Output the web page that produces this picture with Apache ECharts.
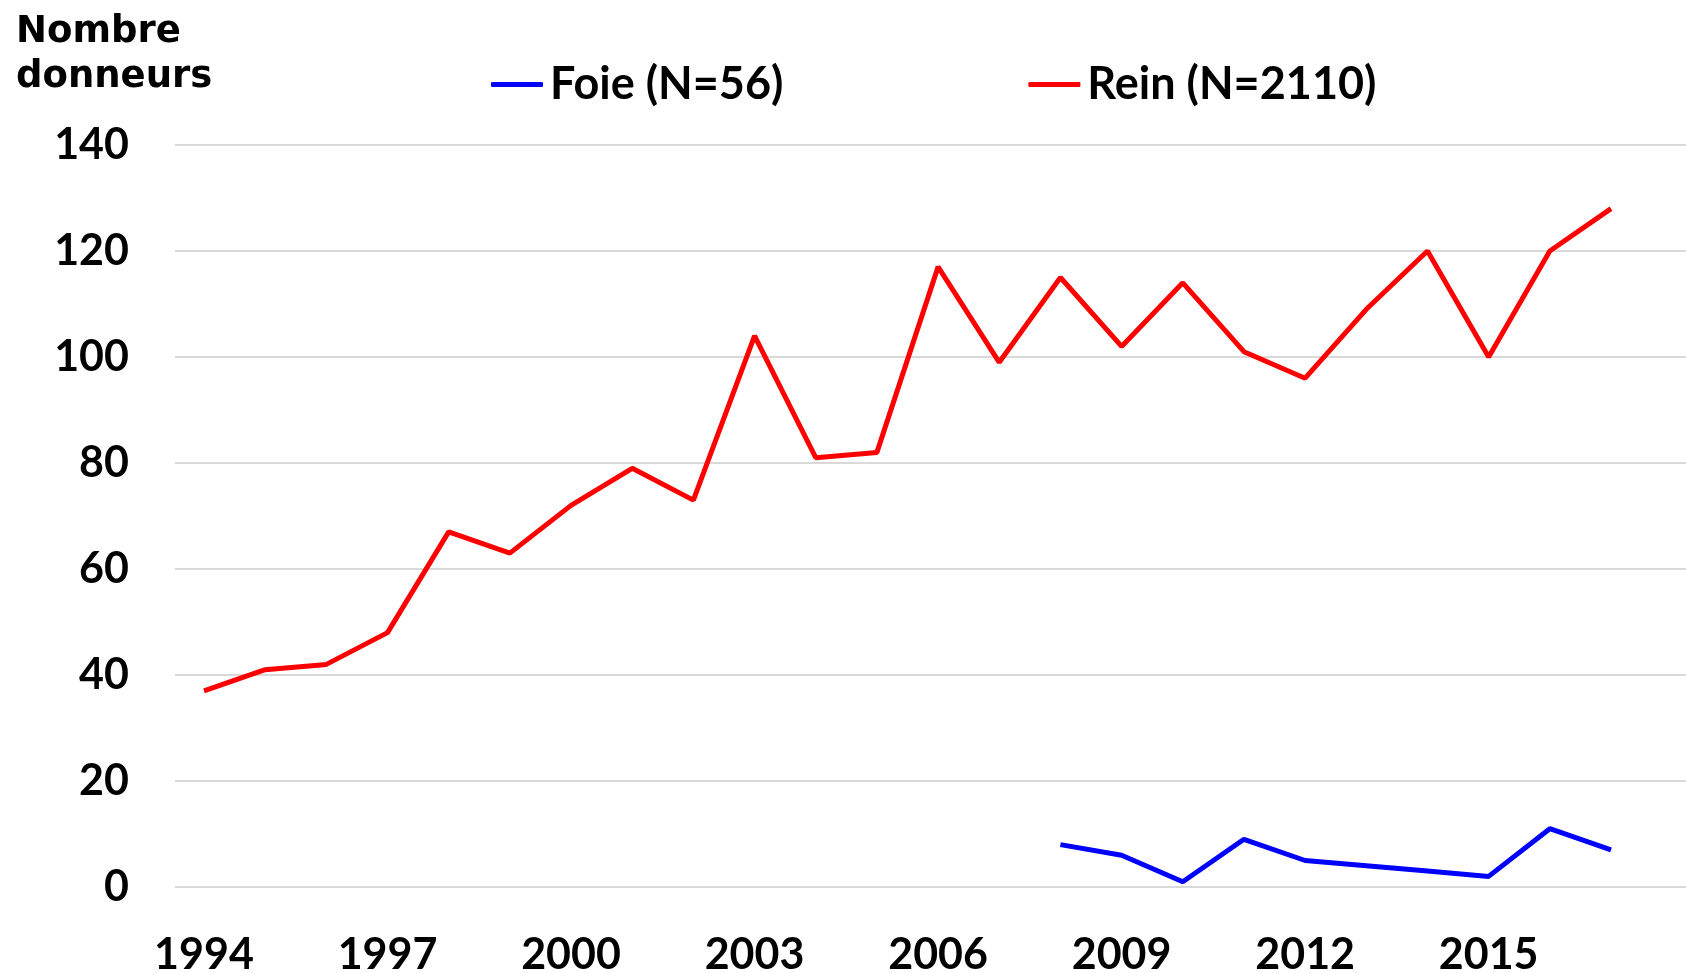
<!DOCTYPE html>
<html>
<head>
<meta charset="utf-8">
<script src="https://cdn.jsdelivr.net/npm/echarts@6/dist/echarts.min.js"></script>
<style>
  html, body { margin: 0; padding: 0; background: #fff; }
  #chart { width: 1686px; height: 973px; }
</style>
</head>
<body>
<div id="chart"></div>
<script>
// années et nombre de donneurs
const years = [1994, 1995, 1996, 1997, 1998, 1999, 2000, 2001, 2002, 2003, 2004, 2005,
  2006, 2007, 2008, 2009, 2010, 2011, 2012, 2013, 2014, 2015, 2016, 2017];
const rein = [37, 41, 42, 48, 67, 63, 72, 79, 73, 104, 81, 82,
  117, 99, 115, 102, 114, 101, 96, 109, 120, 100, 120, 128];
const foieYears = [2008, 2009, 2010, 2011, 2012, 2013, 2014, 2015, 2016, 2017];
const foie = [8, 6, 1, 9, 5, 4, 3, 2, 11, 7];
const xTicks = [1994, 1997, 2000, 2003, 2006, 2009, 2012, 2015];
const seriesNames = ['Foie (N=56)', 'Rein (N=2110)'];

const chart = echarts.init(document.getElementById('chart'));
const mainFont = 'Lato';

const option = {
  animation: false,
  backgroundColor: '#fff',
  title: {
    text: 'Nombre\ndonneurs',
    left: 11,
    top: 5,
    textStyle: {
      fontFamily: 'DejaVu Sans',
      fontWeight: 'bold',
      fontSize: 37,
      lineHeight: 45,
      color: '#000'
    }
  },
  legend: {
    left: 486,
    top: 57,
    itemGap: 245,
    itemWidth: 52,
    itemHeight: 5,
    icon: 'roundRect',
    data: seriesNames,
    textStyle: {
      fontFamily: mainFont,
      fontWeight: 'bold',
      fontSize: 45,
      color: '#000',
      padding: [0, 0, 0, 2]
    }
  },
  grid: { left: 175, right: 0, top: 145, bottom: 86, outerBoundsMode: 'none' },
  xAxis: {
    type: 'value',
    min: 1993.526,
    max: 2018.226,
    axisLine: { show: false },
    axisTick: { show: false },
    splitLine: { show: false },
    axisLabel: {
      customValues: xTicks,
      margin: 47,
      fontFamily: mainFont,
      fontWeight: 'bold',
      fontSize: 43,
      color: '#000',
      formatter: v => String(v)
    }
  },
  yAxis: {
    type: 'value',
    min: 0,
    max: 140,
    interval: 20,
    axisLine: { show: false },
    axisTick: { show: false },
    splitLine: { lineStyle: { color: '#D9D9D9', width: 2 } },
    axisLabel: {
      margin: 46,
      fontFamily: mainFont,
      fontWeight: 'bold',
      fontSize: 43,
      color: '#000'
    }
  },
  series: [
    {
      name: seriesNames[0],
      type: 'line',
      color: '#0000FF',
      showSymbol: false,
      lineStyle: { width: 5, color: '#0000FF' },
      data: foieYears.map((y, i) => [y, foie[i]])
    },
    {
      name: seriesNames[1],
      type: 'line',
      color: '#FF0000',
      showSymbol: false,
      lineStyle: { width: 5, color: '#FF0000' },
      data: years.map((y, i) => [y, rein[i]])
    }
  ]
};

chart.setOption(option);
</script>
</body>
</html>
